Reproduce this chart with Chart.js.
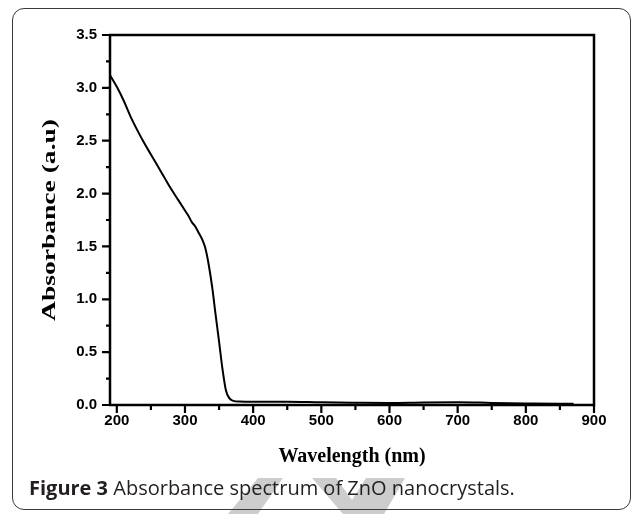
<!DOCTYPE html>
<html><head><meta charset="utf-8">
<script src="https://cdn.jsdelivr.net/npm/chart.js@4"></script>
<style>
html,body{margin:0;padding:0;background:#fff;}
#wrap{position:relative;width:632px;height:514px;overflow:hidden;background:#fff;}
#frame{position:absolute;left:12px;top:8px;width:619px;height:502px;border:1.5px solid #3a3a3a;border-radius:12px;box-sizing:border-box;}
#wm{position:absolute;left:0;top:0;}
#cap{position:absolute;left:29px;top:474px;font-family:"Open Sans",sans-serif;font-size:20px;line-height:normal;color:#231f20;white-space:nowrap;}
#cap b{font-weight:700;}
#c{position:absolute;left:0;top:0;}
</style></head>
<body>
<div id="wrap">
<svg id="wm" width="632" height="514"><g fill="#cdcdcd">
<polygon points="258,478 283,478 258,514 228,514"/>
<polygon points="312,478 336,478 352,500 366,478 405,478 384,514 343,514"/>
</g></svg>
<div id="frame"></div>
<canvas id="c" width="632" height="514"></canvas>
<div id="cap"><b>Figure 3</b> Absorbance spectrum of ZnO nanocrystals.</div>
</div>
<script>
const wavelength = [190, 200, 210, 220, 230, 240, 250, 260, 270, 280, 290, 300, 305, 310, 315, 320, 325, 330, 335, 340, 345, 350, 355, 360, 365, 370, 380, 400, 450, 500, 550, 600, 650, 700, 750, 800, 850, 870];
const absorbance = [3.12, 3.01, 2.88, 2.73, 2.60, 2.48, 2.37, 2.26, 2.15, 2.04, 1.94, 1.84, 1.79, 1.73, 1.69, 1.63, 1.57, 1.48, 1.32, 1.11, 0.85, 0.60, 0.34, 0.14, 0.065, 0.042, 0.032, 0.030, 0.030, 0.025, 0.022, 0.020, 0.024, 0.026, 0.020, 0.015, 0.012, 0.012];
const xTicks = [200, 300, 400, 500, 600, 700, 800, 900];
const xMinor = [250, 350, 450, 550, 650, 750, 850];
const yTicks = [0, 0.5, 1.0, 1.5, 2.0, 2.5, 3.0, 3.5];
const yMinor = [0.25, 0.75, 1.25, 1.75, 2.25, 2.75, 3.25];
const yTitle = 'Absorbance (a.u)';

const points = wavelength.map((w, i) => ({x: w, y: absorbance[i]}));

const framePlugin = {
  id: 'frameTicks',
  afterDatasetsDraw(chart) {
    const {ctx, chartArea: a, scales: {x, y}} = chart;
    ctx.save();
    ctx.strokeStyle = '#000';
    ctx.lineWidth = 2.5;
    ctx.strokeRect(a.left, a.top, a.right - a.left, a.bottom - a.top);
    ctx.lineWidth = 2.2;
    ctx.beginPath();
    xTicks.forEach(v => { const p = x.getPixelForValue(v); ctx.moveTo(p, a.bottom); ctx.lineTo(p, a.bottom + 8); });
    xMinor.forEach(v => { const p = x.getPixelForValue(v); ctx.moveTo(p, a.bottom); ctx.lineTo(p, a.bottom + 5); });
    yTicks.forEach(v => { const p = y.getPixelForValue(v); ctx.moveTo(a.left, p); ctx.lineTo(a.left - 8, p); });
    yMinor.forEach(v => { const p = y.getPixelForValue(v); ctx.moveTo(a.left, p); ctx.lineTo(a.left - 4, p); });
    ctx.stroke();
    // stretched y-axis title, as in the reference
    ctx.translate(50, (a.top + a.bottom) / 2);
    ctx.rotate(-Math.PI / 2);
    ctx.scale(1.45, 1);
    ctx.font = 'bold 19px "Liberation Serif"';
    ctx.fillStyle = '#000';
    ctx.textAlign = 'center';
    ctx.textBaseline = 'middle';
    ctx.fillText(yTitle, 0, 0);
    ctx.restore();
  }
};

new Chart(document.getElementById('c'), {
  type: 'scatter',
  data: {
    datasets: [{
      data: points,
      showLine: true,
      borderColor: '#000',
      borderWidth: 2,
      pointRadius: 0,
      cubicInterpolationMode: 'monotone',
      fill: false
    }]
  },
  options: {
    responsive: false,
    animation: false,
    devicePixelRatio: 1,
    layout: {padding: {left: 0, top: 35, right: 38, bottom: 45}},
    plugins: {legend: {display: false}, tooltip: {enabled: false}},
    scales: {
      x: {
        type: 'linear', min: 190, max: 900,
        afterBuildTicks: s => { s.ticks = xTicks.map(v => ({value: v})); },
        afterFit: s => { s.height = 64; },
        grid: {display: false, drawTicks: false},
        border: {display: false},
        ticks: {color: '#000', padding: 7, maxRotation: 0, autoSkip: false,
          font: {family: 'Liberation Sans', weight: 'bold', size: 15}},
        title: {display: true, text: 'Wavelength (nm)', color: '#000', padding: {top: 0, bottom: 0},
          font: {family: 'Liberation Serif', weight: 'bold', size: 20}}
      },
      y: {
        type: 'linear', min: 0, max: 3.5,
        afterBuildTicks: s => { s.ticks = yTicks.map(v => ({value: v})); },
        afterFit: s => { s.width = 110; },
        grid: {display: false, drawTicks: false},
        border: {display: false},
        ticks: {color: '#000', padding: 13, autoSkip: false,
          callback: v => Number(v).toFixed(1),
          font: {family: 'Liberation Sans', weight: 'bold', size: 15}},
        title: {display: false}
      }
    }
  },
  plugins: [framePlugin]
});
</script>
</body></html>
